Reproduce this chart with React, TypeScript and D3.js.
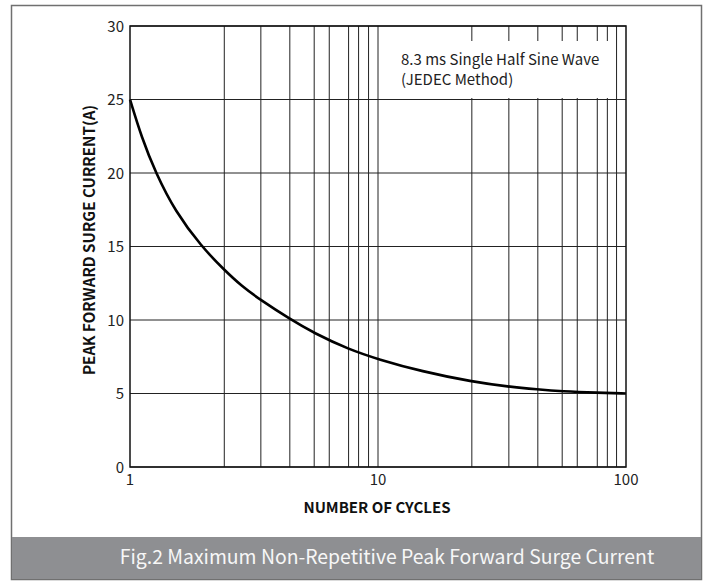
import React from "react";
import * as d3 from "d3";

// ---- data ----
const cycles = [1, 1.115, 1.27, 1.52, 1.94, 2.4, 2.82, 3.37, 4.38, 5.53, 7.64, 10, 15, 24, 33.7, 44, 55, 77, 100];
const current = [25, 22.4, 20, 17.4, 15, 13.4, 12.3, 11.35, 10.1, 9.1, 8.0, 7.33, 6.5, 5.8, 5.46, 5.28, 5.15, 5.05, 5.0];
const yTicks = [0, 5, 10, 15, 20, 25, 30];
const xTickLabels = [1, 10, 100];
const xGrid = [2.4, 3.37, 4.41, 5.53, 6.36, 7.61, 8.35, 9.16, 10, 23.9, 33.7, 44.1, 55.3, 63.6, 76.6, 84.1, 91.6];
const noteLines = ["8.3 ms Single Half Sine Wave", "(JEDEC Method)"];
const xTitle = "NUMBER OF CYCLES";
const yTitle = "PEAK FORWARD SURGE CURRENT(A)";
const caption = "Fig.2 Maximum Non-Repetitive Peak Forward Surge Current";

const FONT = "'Noto Sans CJK SC', 'Noto Sans', sans-serif";

export default function App() {
  const W = 715, H = 581;
  const left = 130, right = 626, top = 26, bottom = 467;
  const x = d3.scaleLog().domain([1, 100]).range([left, right]);
  const y = d3.scaleLinear().domain([0, 30]).range([bottom, top]);
  const pts: [number, number][] = cycles.map((c, i) => [x(c), y(current[i])]);
  const line = d3.line().curve(d3.curveBasis)(pts) || "";

  return (
    <svg width={W} height={H} style={{ position: "absolute", left: 0, top: 0, fontFamily: FONT }}>
      <rect x={0} y={0} width={W} height={H} fill="#fff" />
      {/* outer frame */}
      <rect x={11.5} y={5.5} width={690} height={574} fill="#fff" stroke="#707070" strokeWidth={1.5} />
      <rect x={12} y={537} width={689} height={42} fill="#8e8f92" />
      <text x={387} y={564} textAnchor="middle" fontSize={19.4} fill="#f7f7f7">{caption}</text>

      {/* horizontal grid */}
      {yTicks.map((t) => (
        <line key={"h" + t} x1={left} x2={right} y1={y(t)} y2={y(t)} stroke="#222" strokeWidth={1} />
      ))}
      {/* vertical grid */}
      {xGrid.map((g) => (
        <line key={"v" + g} x1={x(g)} x2={x(g)} y1={top} y2={bottom} stroke="#222" strokeWidth={1} />
      ))}
      {/* note box */}
      <rect x={382} y={41} width={231} height={57} fill="#fff" />
      {noteLines.map((s, i) => (
        <text key={s} x={401} y={65 + i * 19.5} fontSize={15} fill="#222">{s}</text>
      ))}

      {/* curve */}
      <path d={line} fill="none" stroke="#000" strokeWidth={2.6} />

      {/* plot border */}
      <rect x={left} y={top} width={right - left} height={bottom - top} fill="none" stroke="#111" strokeWidth={1.5} />

      {/* y ticks */}
      {yTicks.map((t) => (
        <text key={"yt" + t} x={124} y={y(t) + 5.5} textAnchor="end" fontSize={15} fill="#222">{t}</text>
      ))}
      {/* x ticks */}
      {xTickLabels.map((t) => (
        <text key={"xt" + t} x={x(t)} y={485} textAnchor="middle" fontSize={15} fill="#222">{t}</text>
      ))}

      <text x={377} y={513} textAnchor="middle" fontSize={15} fontWeight="bold" fill="#111">{xTitle}</text>
      <text transform={`translate(95,240) rotate(-90)`} textAnchor="middle" fontSize={15.2} fontWeight="bold" fill="#111">{yTitle}</text>
    </svg>
  );
}
